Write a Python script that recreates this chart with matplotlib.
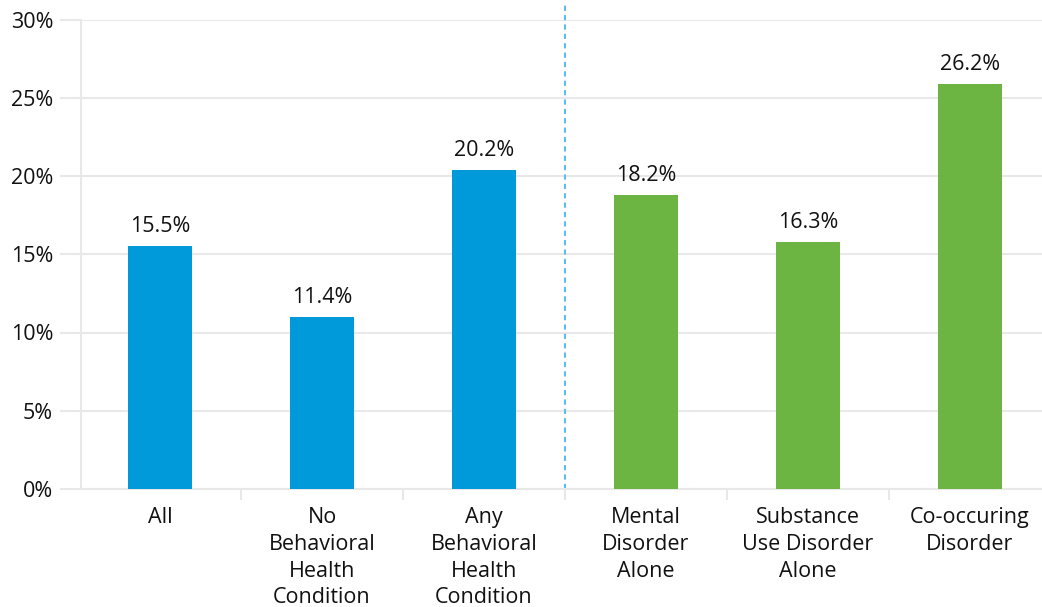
import matplotlib
matplotlib.use("Agg")
import matplotlib.pyplot as plt

plt.rcParams['font.family'] = ['Open Sans', 'DejaVu Sans']

# 数据
categories = ["All", "No\nBehavioral\nHealth\nCondition", "Any\nBehavioral\nHealth\nCondition",
              "Mental\nDisorder\nAlone", "Substance\nUse Disorder\nAlone", "Co-occuring\nDisorder"]
bar_heights = [15.5, 11.0, 20.4, 18.8, 15.8, 25.9]
bar_labels = ["15.5%", "11.4%", "20.2%", "18.2%", "16.3%", "26.2%"]
groups = ["overall", "overall", "overall", "disorder", "disorder", "disorder"]
yticks = [0, 5, 10, 15, 20, 25, 30]

colors = {"overall": "#0099da", "disorder": "#6db543"}
grid_color = "#e8e8e8"
text_color = "#111111"

fig = plt.figure(figsize=(10.42, 6.07), dpi=100)
ax = fig.add_axes([81 / 1042, 1 - 489 / 607, 1 - 81 / 1042, (489 - 19.5) / 607])

x = range(len(categories))
ax.bar(x, bar_heights, width=0.395, color=[colors[g] for g in groups], zorder=3)

for xi, h, lab in zip(x, bar_heights, bar_labels):
    ax.annotate(lab, (xi, h), xytext=(0, 6.5), textcoords="offset points",
                ha="center", va="bottom", fontsize=15.5, color=text_color)

ax.set_yticks(yticks)
ax.set_yticklabels([f"{t}%" for t in yticks])
ax.yaxis.grid(True, color=grid_color, linewidth=1.5, zorder=0)
ax.tick_params(axis="y", length=15, width=1.5, color=grid_color, pad=5,
               labelsize=15.5, labelcolor=text_color)

ax.set_xticks(list(x))
ax.set_xticklabels(categories, fontsize=15.5, color=text_color, linespacing=1.36)
ax.tick_params(axis="x", length=0, pad=13)
ax.set_xticks([i - 0.5 for i in range(len(categories) + 1)], minor=True)
ax.tick_params(axis="x", which="minor", length=8, width=1.5, color=grid_color)

# 刻度设置之后再定范围
ax.set_xlim(-79 / 162, 882 / 162)
ax.set_ylim(0, 30)

for side in ["top", "right"]:
    ax.spines[side].set_visible(False)
ax.spines["left"].set_color(grid_color)
ax.spines["left"].set_linewidth(1.5)
ax.spines["bottom"].set_color(grid_color)
ax.spines["bottom"].set_linewidth(1.5)

# 分隔虚线
ax.plot([2.5, 2.5], [0, 31], color="#5bbde8", linewidth=1.5,
        linestyle=(0, (2.5, 2)), clip_on=False, zorder=2)

fig.savefig("out.png", dpi=100)
plt.close(fig)
